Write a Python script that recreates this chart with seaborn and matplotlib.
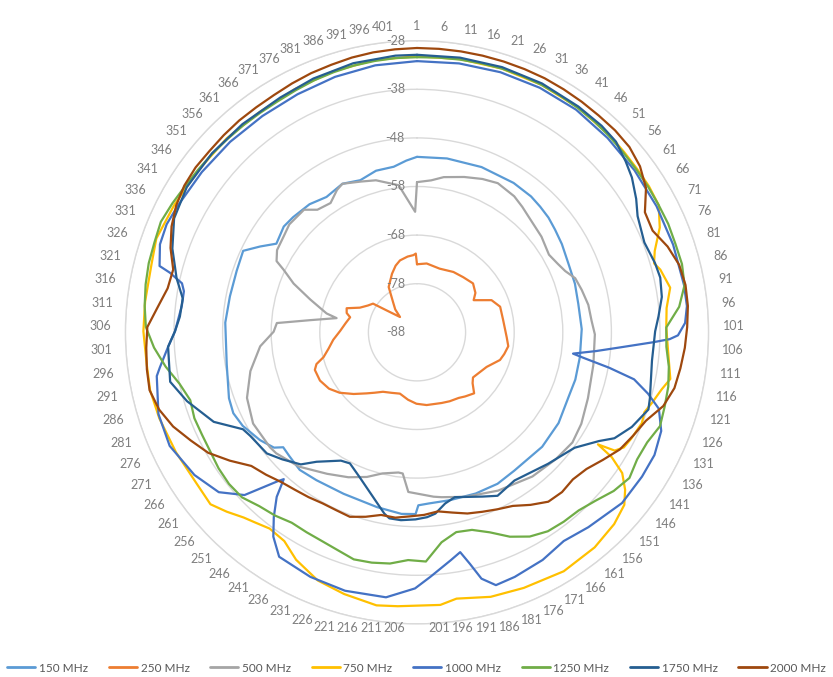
import numpy as np
import pandas as pd
import matplotlib
matplotlib.use("Agg")
import matplotlib.pyplot as plt
from matplotlib.lines import Line2D
import seaborn as sns

# ---- chart data -------------------------------------------------------------
N_CAT = 405                      # measurement steps around the full circle
r_ticks = [-88, -78, -68, -58, -48, -38, -28]
cat_labels = list(range(1, 402, 5))

series = ["150 MHz", "250 MHz", "500 MHz", "750 MHz",
          "1000 MHz", "1250 MHz", "1750 MHz", "2000 MHz"]
colors = ["#5B9BD5", "#ED7D31", "#A5A5A5", "#FFC000",
          "#4472C4", "#70AD47", "#255E91", "#9E480E"]

cat_150 = [1, 12, 25, 38, 46, 51, 56, 61, 67, 75,
           83, 91, 101, 112, 121, 128, 139, 150, 164, 172,
           181, 191, 199, 203, 204, 209, 218, 231, 242, 249,
           255, 259, 261, 266, 273, 278, 283, 294, 308, 317,
           326, 333, 337, 341, 348, 353, 361, 368, 376, 383,
           390, 397, 402]
db_150 = [-51.9, -51.7, -51.5, -51.4, -51.5, -51.8, -52.1, -52.6, -53.1, -53.8,
          -54.0, -54.3, -54.1, -54.1, -54.0, -54.1, -53.4, -53.1, -53.2, -52.7,
          -52.7, -52.8, -52.7, -52.4, -50.6, -50.5, -51.1, -51.5, -51.2, -50.8,
          -51.4, -51.7, -50.2, -48.8, -47.3, -46.7, -47.0, -48.3, -48.5, -48.8,
          -48.8, -48.5, -51.2, -53.8, -53.0, -53.2, -53.6, -54.5, -53.8, -54.6,
          -53.7, -53.6, -52.6]

cat_250 = [1, 10, 23, 36, 46, 56, 64, 69, 76, 83,
           93, 106, 112, 118, 123, 132, 140, 146, 150, 155,
           162, 167, 175, 182, 195, 204, 212, 221, 229, 237,
           243, 248, 255, 262, 268, 275, 282, 285, 288, 293,
           299, 306, 313, 319, 322, 326, 331, 337, 342, 345,
           352, 357, 362, 370, 380, 386, 391, 398, 403, 405]
db_250 = [-74.0, -73.7, -74.1, -73.5, -73.2, -72.7, -73.5, -74.6, -71.3, -70.1,
          -70.1, -69.5, -69.0, -69.5, -70.0, -72.0, -72.8, -73.2, -72.5, -70.8,
          -71.5, -72.0, -72.3, -72.6, -72.9, -73.3, -74.0, -74.9, -74.5, -73.9,
          -72.8, -71.7, -69.8, -67.8, -66.5, -65.7, -65.6, -66.3, -68.1, -69.5,
          -70.7, -72.2, -73.2, -73.9, -73.0, -72.7, -75.2, -76.5, -77.2, -80.3,
          -83.3, -81.5, -80.3, -77.0, -74.9, -73.6, -72.8, -72.3, -72.1, -71.8]

cat_500 = [1, 7, 12, 20, 27, 33, 41, 46, 51, 60,
           68, 73, 77, 81, 86, 92, 98, 103, 114, 126,
           135, 142, 150, 160, 173, 185, 194, 197, 207, 210,
           212, 219, 225, 232, 240, 250, 259, 262, 272, 281,
           290, 299, 305, 309, 312, 316, 318, 324, 329, 333,
           335, 339, 345, 350, 358, 362, 368, 373, 376, 383,
           389, 398, 405]
db_500 = [-57.1, -56.6, -55.6, -54.6, -53.7, -53.1, -53.6, -54.3, -55.0, -55.7,
          -56.5, -55.8, -55.0, -53.6, -53.0, -52.3, -52.0, -51.4, -51.1, -50.3,
          -49.3, -48.8, -49.3, -50.0, -51.4, -52.7, -53.7, -54.0, -55.1, -58.8,
          -58.9, -58.1, -56.5, -55.0, -53.5, -51.2, -49.8, -49.6, -49.4, -50.5,
          -52.8, -55.6, -58.5, -59.1, -65.8, -71.2, -69.0, -65.0, -60.7, -57.7,
          -55.6, -54.6, -54.2, -53.6, -53.7, -55.5, -56.0, -54.4, -53.8, -54.9,
          -55.6, -57.5, -63.2]

cat_750 = [1, 11, 21, 31, 41, 51, 56, 61, 66, 71,
           76, 81, 84, 86, 91, 96, 101, 107, 114, 117,
           121, 124, 127, 132, 135, 137, 138, 139, 141, 144,
           147, 152, 159, 168, 178, 186, 194, 198, 208, 213,
           221, 228, 235, 240, 245, 249, 252, 256, 260, 266,
           275, 284, 291, 297, 305, 312, 321, 327, 336, 346,
           356, 366, 376, 386, 396]
db_750 = [-31.2, -31.1, -31.0, -31.0, -31.1, -31.3, -31.5, -31.6, -31.6, -31.8,
          -33.6, -36.3, -37.2, -36.3, -35.1, -36.4, -36.7, -36.2, -35.0, -36.3,
          -37.5, -38.4, -38.1, -38.8, -39.3, -40.6, -44.2, -40.4, -36.8, -34.3,
          -32.5, -31.4, -30.6, -30.3, -31.0, -31.5, -32.6, -31.7, -31.5, -31.2,
          -32.1, -33.0, -35.0, -37.1, -37.5, -36.6, -35.8, -34.2, -32.7, -33.0,
          -32.6, -32.1, -31.8, -32.0, -31.7, -31.7, -31.6, -31.0, -31.6, -32.0,
          -32.1, -32.3, -32.0, -31.6, -31.3]

cat_1000 = [1, 11, 21, 31, 41, 51, 61, 71, 81, 91,
            96, 100, 103, 104, 105, 107, 109, 111, 112, 114,
            116, 119, 122, 127, 133, 139, 147, 157, 164, 171,
            179, 184, 187, 189, 191, 194, 200, 204, 211, 221,
            230, 239, 243, 246, 249, 251, 252, 256, 261, 268,
            277, 285, 294, 296, 301, 305, 312, 316, 318, 320,
            321, 326, 331, 336, 346, 356, 366, 376, 386, 396]
db_1000 = [-32.2, -32.0, -31.8, -31.7, -31.7, -32.0, -32.2, -32.3, -32.3, -32.2,
           -32.2, -32.8, -34.3, -36.0, -39.5, -46.0, -51.0, -55.6, -53.5, -47.8,
           -42.3, -38.8, -35.8, -33.8, -33.0, -33.0, -33.1, -34.6, -35.5, -34.5,
           -33.8, -33.5, -35.6, -39.1, -41.9, -40.6, -37.6, -35.3, -33.1, -32.8,
           -33.1, -33.8, -36.6, -39.9, -43.5, -47.2, -46.0, -39.2, -35.6, -33.6,
           -32.0, -32.2, -33.7, -34.6, -36.7, -38.2, -39.3, -39.3, -38.6, -35.7,
           -33.3, -32.1, -31.9, -32.3, -32.8, -33.1, -33.3, -33.2, -32.8, -32.4]

cat_1250 = list(range(1, 402, 5))
db_1250 = [-31.4, -31.3, -31.2, -31.1, -31.0, -31.0, -31.0, -31.1, -31.2, -31.3,
           -31.5, -31.7, -31.8, -31.8, -31.8, -31.7, -31.8, -31.7, -32.1, -33.8,
           -36.7, -36.6, -35.7, -35.1, -34.8, -34.4, -35.5, -35.7, -35.0, -36.0,
           -37.5, -38.5, -38.7, -39.0, -40.0, -41.8, -44.2, -45.8, -46.1, -44.5,
           -40.8, -41.1, -40.1, -39.7, -39.5, -40.3, -40.8, -41.0, -41.1, -40.3,
           -39.7, -38.5, -38.3, -38.5, -38.9, -39.0, -38.9, -39.3, -38.0, -35.8,
           -33.8, -32.2, -31.7, -31.3, -31.0, -30.9, -30.6, -31.1, -31.6, -31.9,
           -32.1, -32.3, -32.4, -32.5, -32.5, -32.3, -32.0, -31.8, -31.6, -31.5,
           -31.4]

cat_1750 = [1, 11, 21, 31, 41, 48, 53, 58, 62, 67,
            71, 78, 84, 88, 93, 98, 102, 110, 120, 123,
            129, 134, 137, 143, 153, 166, 174, 179, 189, 193,
            197, 200, 204, 209, 213, 215, 228, 234, 238, 246,
            250, 256, 261, 269, 272, 278, 286, 292, 297, 301,
            305, 309, 314, 319, 326, 333, 341, 351, 361, 372,
            381, 391, 401]
db_1750 = [-30.9, -30.8, -30.7, -30.7, -30.9, -31.0, -31.3, -32.5, -33.5, -35.2,
           -36.7, -37.7, -37.0, -36.7, -37.1, -38.2, -39.0, -39.3, -38.2, -37.8,
           -39.7, -41.9, -44.4, -47.8, -49.8, -51.5, -50.5, -51.6, -53.2, -52.3,
           -50.5, -49.9, -49.5, -49.2, -49.3, -50.1, -56.0, -57.7, -57.3, -54.3,
           -51.8, -49.9, -48.3, -47.6, -47.0, -42.3, -38.6, -36.2, -36.6, -36.7,
           -38.2, -39.1, -39.3, -37.3, -34.8, -32.8, -32.0, -32.0, -32.1, -32.1,
           -31.6, -31.1, -30.9]

cat_2000 = list(range(1, 402, 5))
db_2000 = [-29.5, -29.5, -29.5, -29.5, -29.5, -29.5, -29.5, -29.6, -29.7, -29.8,
           -29.8, -30.0, -30.8, -32.3, -35.0, -35.2, -33.5, -32.3, -31.9, -32.0,
           -32.4, -32.8, -33.3, -33.8, -35.1, -37.5, -38.7, -39.8, -41.6, -43.2,
           -43.9, -43.6, -43.9, -45.5, -47.2, -48.0, -48.7, -49.3, -50.2, -50.9,
           -50.4, -50.1, -49.6, -49.7, -48.6, -47.6, -47.8, -47.8, -47.4, -47.0,
           -46.4, -45.3, -44.2, -41.3, -38.4, -36.4, -34.2, -32.6, -31.7, -31.9,
           -32.2, -32.5, -34.4, -35.9, -36.2, -34.4, -33.0, -32.0, -31.4, -31.2,
           -31.3, -31.2, -31.1, -31.1, -31.0, -30.7, -30.4, -30.2, -29.9, -29.7,
           -29.6]

cats = [cat_150, cat_250, cat_500, cat_750, cat_1000, cat_1250, cat_1750, cat_2000]
dbs = [db_150, db_250, db_500, db_750, db_1000, db_1250, db_1750, db_2000]

# ---- long table, one closed loop per series ------------------------------------
def to_theta(c):
    return (np.asarray(c, dtype=float) - 1.0) * 2.0 * np.pi / N_CAT

frames = []
for name, c, v in zip(series, cats, dbs):
    th = to_theta(c)
    th = np.append(th, th[0] + 2.0 * np.pi)
    vv = np.append(np.asarray(v, dtype=float), v[0])
    frames.append(pd.DataFrame({"series": name, "theta": th, "db": vv,
                                "step": np.arange(len(th))}))
df = pd.concat(frames, ignore_index=True)

# ---- figure ---------------------------------------------------------------------
sns.set_theme(style="white")
plt.rcParams["font.family"] = ["Lato", "DejaVu Sans"]

W, H = 833, 677
fig = plt.figure(figsize=(W / 100, H / 100), dpi=100)
cx, cy, R = 417.0, 332.3, 291.6
ax = fig.add_axes([(cx - R) / W, (H - cy - R) / H, 2 * R / W, 2 * R / H],
                  projection="polar")
ax.set_theta_zero_location("N")
ax.set_theta_direction(-1)

grid_col = "#D9D9D9"
label_col = "#7F7F7F"

sns.lineplot(data=df, x="theta", y="db", hue="series", hue_order=series,
             palette=dict(zip(series, colors)), units="series", estimator=None,
             sort=False, linewidth=1.6, legend=False, ax=ax)

ax.set_ylim(r_ticks[0], r_ticks[-1])
ax.set_yticks(r_ticks)
ax.set_yticklabels([])
ax.set_xticks([])
ax.set_xlabel("")
ax.set_ylabel("")
ax.yaxis.grid(True, color=grid_col, linewidth=1.0)
ax.xaxis.grid(False)
ax.spines["polar"].set_color(grid_col)
ax.spines["polar"].set_linewidth(1.0)
ax.set_axisbelow(True)
ax.set_facecolor("white")

# radial value labels along the vertical axis
for v in r_ticks:
    ax.annotate(str(v), xy=(0.0, v), xytext=(-12, 0), textcoords="offset pixels",
                ha="right", va="center", fontsize=9, color=label_col,
                annotation_clip=False)

# category labels around the rim: right half reads from the anchor outwards,
# left half ends at the anchor
gap = 306.0 - R
for c in cat_labels:
    th = to_theta(c)
    s, co = np.sin(th), np.cos(th)
    w = 7.0 * len(str(c))
    side = 0.0 if abs(s) < 1e-9 else np.sign(s)
    dx = gap * s + side * w / 2.0
    dy = gap * co
    y_top = cy - R * co - dy
    if y_top > 628:
        dy = cy - R * co - 628
    ax.annotate(str(c), xy=(th, r_ticks[-1]), xytext=(dx, dy),
                textcoords="offset pixels", ha="center", va="center",
                fontsize=9, color=label_col, annotation_clip=False)

handles = [Line2D([], [], color=col, linewidth=2.0) for col in colors]
fig.legend(handles, series, loc="center", bbox_to_anchor=(0.5, 1 - 668 / H),
           ncol=8, frameon=False, fontsize=8.5, handlelength=2.4,
           handletextpad=0.3, columnspacing=1.75, labelcolor="#595959")

fig.savefig("out.png", dpi=100, facecolor="white")
